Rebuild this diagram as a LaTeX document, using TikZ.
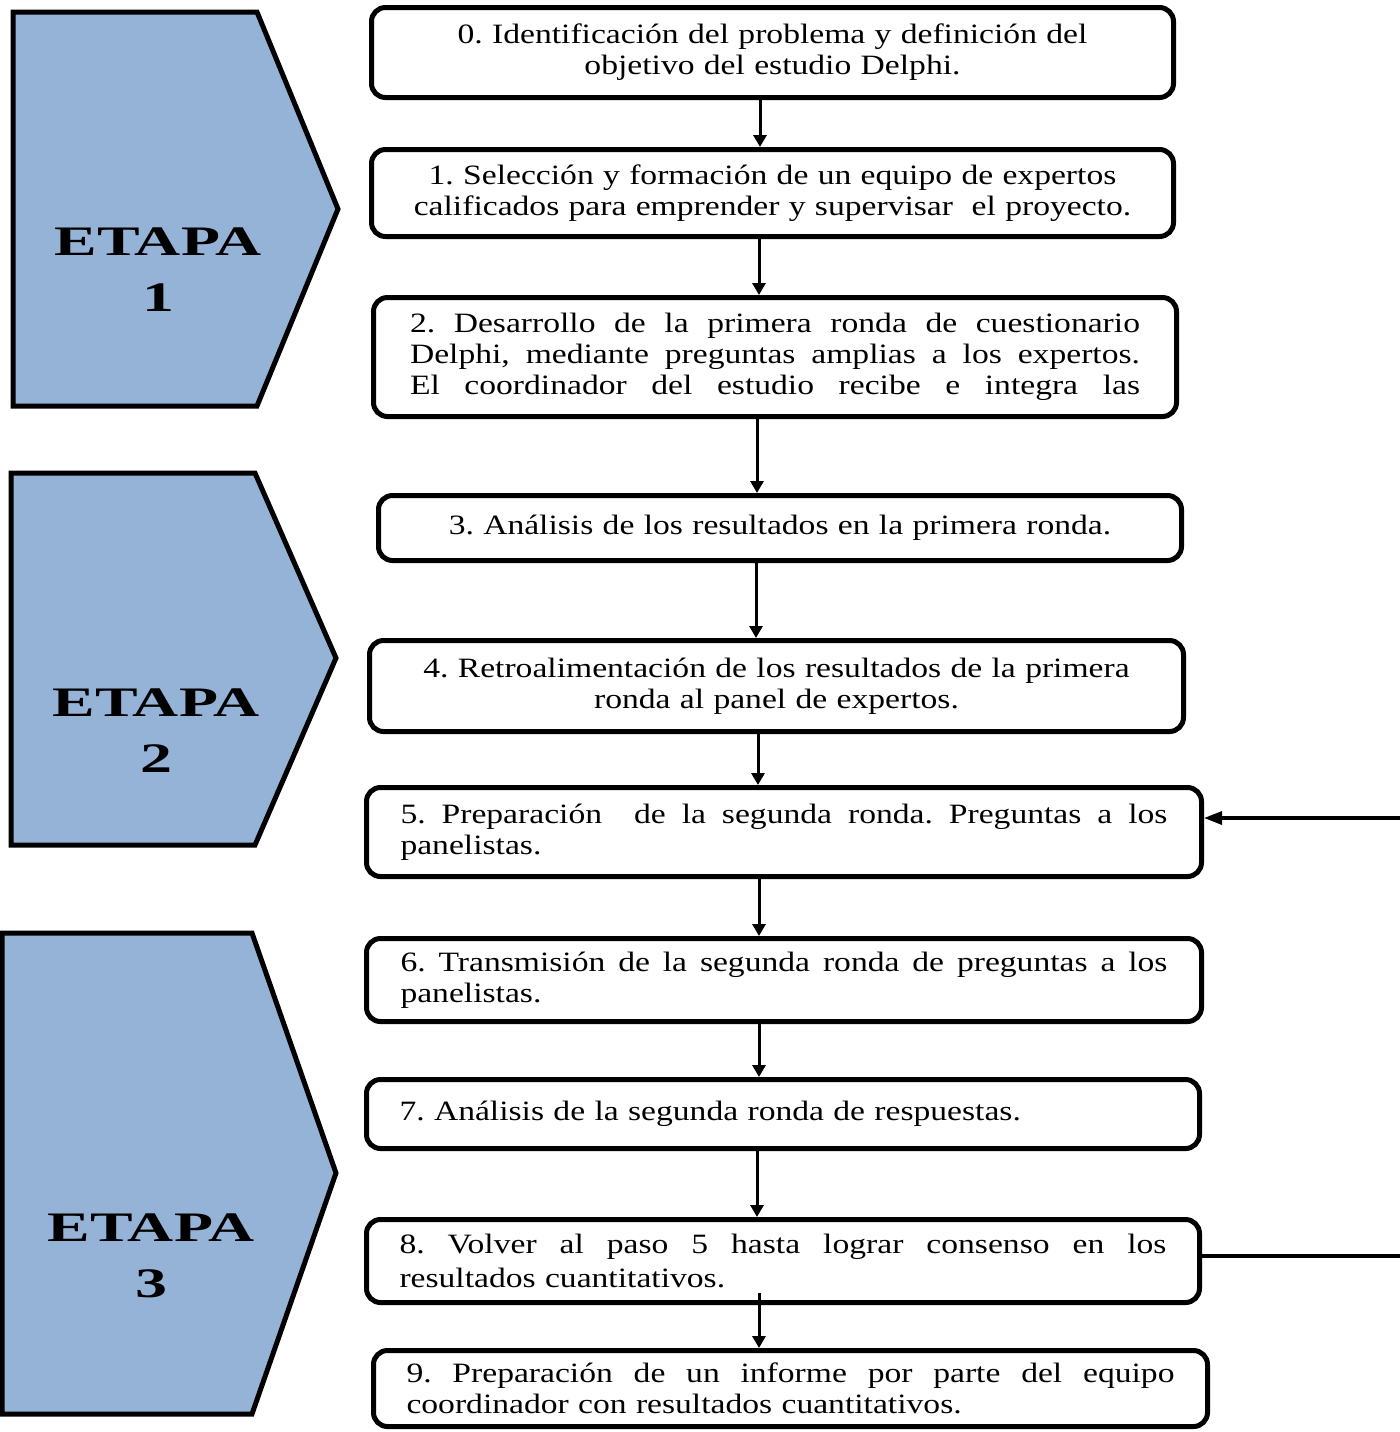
\documentclass[tikz,border=0pt]{standalone}
\usepackage{fontspec}
\setmainfont{Liberation Serif}[FakeStretch=1.2]
\newfontfamily\etapafont{Liberation Serif}[FakeStretch=1.52]
\usetikzlibrary{arrows.meta}
\definecolor{etapablue}{HTML}{95B3D7}
\frenchspacing
% a line whose word spaces are spread to fill the given width
\newcommand{\fullline}[2]{\leavevmode{\spaceskip=0.25em plus 1fil\xspaceskip=\spaceskip\hbox to #1{#2}}}

\begin{document}
\begin{tikzpicture}[x=0.5pt,y=-0.5pt,
  stepbox/.style={draw, line width=2.5pt, rounded corners=7pt, inner xsep=0pt, inner ysep=1pt,
    font=\fontsize{14}{15.5}\selectfont},
  stage/.style={draw, line width=2.5pt, fill=etapablue, line join=miter},
  stagelabel/.style={align=center, font=\etapafont\bfseries\fontsize{21}{28}\selectfont},
  flow/.style={line width=1.5pt, -{Triangle[length=6pt,width=6.5pt]}},
  back/.style={line width=2pt},
  backin/.style={line width=1.6pt, -{Triangle[length=9pt,width=6.5pt]}}]

\useasboundingbox (0,0) rectangle (1400,1432);

% stage arrows
\draw[stage] (13,12) -- (257,12) -- (338,209) -- (257,406) -- (13,406) -- cycle;
\draw[stage] (11,473) -- (255,473) -- (336,658) -- (255,845) -- (11,845) -- cycle;
\draw[stage] (2,933) -- (252,933) -- (336,1173) -- (252,1414) -- (2,1414) -- cycle;

\node[stagelabel] (e1) at (158,270) {ETAPA\\1};
\node[stagelabel] (e2) at (156,731) {ETAPA\\2};
\node[stagelabel] (e3) at (151,1256) {ETAPA\\3};

% steps
\node[stepbox, minimum width=401pt, minimum height=45pt, text width=395pt, align=center] (b0) at (772.5,52.5)
  {0. Identificación del problema y definición del\\objetivo del estudio Delphi.};
\node[stepbox, minimum width=401pt, minimum height=43.5pt, text width=395pt, align=center] (b1) at (772.5,193)
  {1. Selección y formación de un equipo de expertos\\calificados para emprender y supervisar\ \ el proyecto.};
\node[stepbox, minimum width=401.5pt, minimum height=59.5pt, text width=365pt, align=left] (b2) at (775,357)
  {\fullline{365pt}{2. Desarrollo de la primera ronda de cuestionario}\\
   \fullline{365pt}{Delphi, mediante preguntas amplias a los expertos.}\\
   \fullline{365pt}{El coordinador del estudio recibe e integra las}};
\node[stepbox, minimum width=401.5pt, minimum height=32.5pt, text width=395pt, align=center] (b3) at (780,528)
  {3. Análisis de los resultados en la primera ronda.};
\node[stepbox, minimum width=407pt, minimum height=45.5pt, text width=400pt, align=center] (b4) at (776.5,686)
  {4. Retroalimentación de los resultados de la primera\\ronda al panel de expertos.};
\node[stepbox, minimum width=417.5pt, minimum height=44.5pt, text width=383.5pt, align=left] (b5) at (784,832)
  {\fullline{383.5pt}{5. Preparación\ \ de la segunda ronda. Preguntas a los}\\panelistas.};
\node[stepbox, minimum width=417.5pt, minimum height=41.5pt, text width=383.5pt, align=left] (b6) at (784,980)
  {\fullline{383.5pt}{6. Transmisión de la segunda ronda de preguntas a los}\\panelistas.};
\node[stepbox, minimum width=416.5pt, minimum height=34.5pt, text width=383.5pt, align=left] (b7) at (783,1114)
  {7. Análisis de la segunda ronda de respuestas.};
\node[stepbox, minimum width=416.5pt, minimum height=41.5pt, text width=383.5pt, align=left,
  font=\fontsize{14}{17}\selectfont] (b8) at (783,1261)
  {\fullline{383.5pt}{8. Volver al paso 5 hasta lograr consenso en los}\\resultados cuantitativos.};
\node[stepbox, minimum width=417pt, minimum height=38pt, text width=384pt, align=left] (b9) at (790.5,1388.5)
  {\fullline{384pt}{9. Preparación de un informe por parte del equipo}\\coordinador con resultados cuantitativos.};

% connectors
\coordinate (s8) at ([yshift=6pt]b8.south);
\draw[flow] (b0.south -| 760,0) -- (b1.north -| 760,0);
\draw[flow] (b1.south -| 759,0) -- (b2.north -| 759,0);
\draw[flow] (b2.south -| 757,0) -- (b3.north -| 757,0);
\draw[flow] (b3.south -| 756,0) -- (b4.north -| 756,0);
\draw[flow] (b4.south -| 758,0) -- (b5.north -| 758,0);
\draw[flow] (b5.south -| 759,0) -- (b6.north -| 759,0);
\draw[flow] (b6.south -| 759,0) -- (b7.north -| 759,0);
\draw[flow] (b7.south -| 757,0) -- (b8.north -| 757,0);
\draw[flow] (s8 -| 759,0) -- (b9.north -| 759,0);

% loop back from step 8 to step 5
\coordinate (loopout) at (1400,1256);
\coordinate (loopin) at (1400,818);
\draw[back] (b8.east |- loopout) -- (loopout);
\draw[backin] (loopin) -- (b5.east |- loopin);
\end{tikzpicture}
\end{document}
